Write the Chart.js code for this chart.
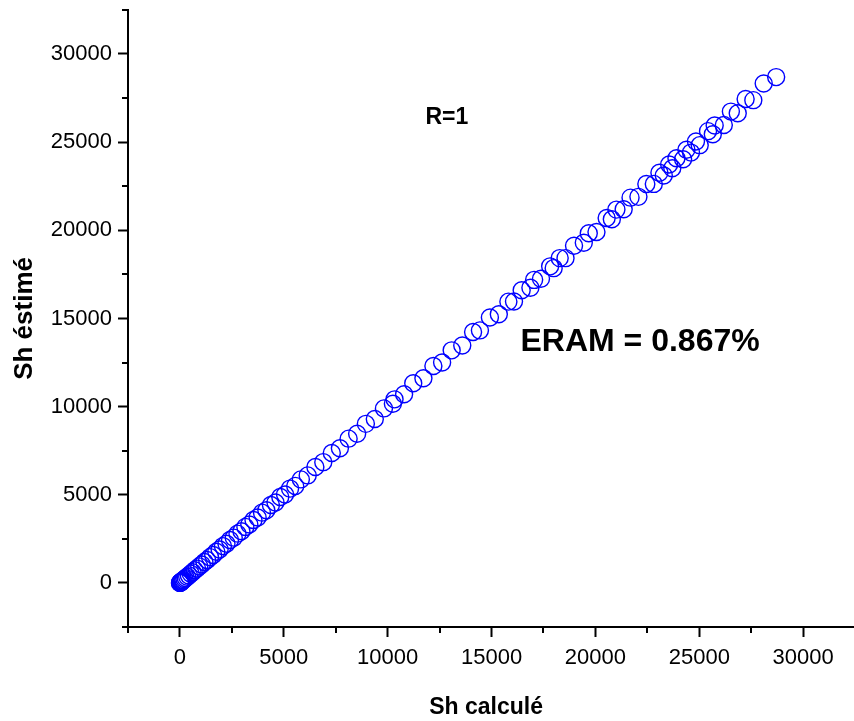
<!DOCTYPE html>
<html>
<head>
<meta charset="utf-8">
<script src="https://cdn.jsdelivr.net/npm/chart.js@4.4.1/dist/chart.umd.min.js"></script>
<style>
  body { margin: 0; background: #fff; }
</style>
</head>
<body>
<canvas id="shChart" width="854" height="721"></canvas>
<script>
    // Sh calculé vs Sh estimé
    const shCalcule = [0, 8, 15, 25, 40, 55, 75, 100, 130, 170, 220, 280, 350, 430, 520, 610, 710, 820, 930, 1050,
        1180, 1310, 1450, 1600, 1750, 1910, 2070, 2240, 2410, 2590, 2770, 2960, 3150, 3340, 3540, 3740, 3950, 4160,
        4380, 4600, 4830, 5060, 5300, 5550, 5820, 6150, 6520, 6900, 7310, 7700, 8120, 8530, 8950, 9380, 9820, 10250,
        10330, 10790, 11230, 11720, 12200, 12620, 13080, 13590, 14110, 14440, 14920, 15350, 15810, 16080, 16450,
        16870, 17050, 17380, 17820, 17990, 18280, 18560, 18970, 19440, 19680, 20050, 20540, 20790, 21010, 21360,
        21690, 22070, 22450, 22810, 23080, 23290, 23550, 23700, 23900, 24220, 24380, 24600, 24840, 25020, 25420,
        25650, 25740, 26180, 26520, 26850, 27230, 27600, 28100, 28700];
    const shEstime = [2, 6, 17, 24, 41, 53, 77, 98, 132, 168, 223, 277, 354, 426, 525, 604, 716, 812, 938, 1041,
        1190, 1298, 1462, 1587, 1764, 1896, 2088, 2221, 2432, 2568, 2795, 2934, 3178, 3311, 3571, 3708, 3986, 4122,
        4419, 4561, 4872, 5017, 5348, 5503, 5871, 6098, 6571, 6851, 7365, 7642, 8183, 8462, 9021, 9301, 9897, 10158,
        10412, 10698, 11321, 11611, 12305, 12504, 13192, 13462, 14232, 14321, 15054, 15238, 15952, 15961, 16598,
        16742, 17188, 17251, 17955, 17854, 18422, 18421, 19121, 19292, 19834, 19902, 20701, 20628, 21173, 21195,
        21852, 21898, 22628, 22631, 23261, 23109, 23732, 23519, 24088, 24033, 24571, 24407, 25037, 24828, 25624,
        25451, 25942, 25976, 26733, 26642, 27450, 27382, 28326, 28690];

    const xTicks = [-2500, 0, 2500, 5000, 7500, 10000, 12500, 15000, 17500, 20000, 22500, 25000, 27500, 30000];
    const yTicks = [-2500, 0, 2500, 5000, 7500, 10000, 12500, 15000, 17500, 20000, 22500, 25000, 27500, 30000, 32500];

    const points = shCalcule.map((v, i) => ({ x: v, y: shEstime[i] }));

    const isMajor = v => v % 5000 === 0;

    // short minor ticks, axis line to the edge, text notes
    const extras = {
        id: "extras",
        afterDraw(chart) {
            const c = chart.ctx;
            const xs = chart.scales.x, ys = chart.scales.y;
            c.save();
            c.strokeStyle = "#000";
            c.lineWidth = 2;
            c.beginPath();
            c.moveTo(xs.right - 1, ys.bottom);
            c.lineTo(chart.width, ys.bottom);
            xTicks.filter(v => !isMajor(v)).forEach(v => {
                const px = Math.round(xs.getPixelForValue(v));
                c.moveTo(px, ys.bottom);
                c.lineTo(px, ys.bottom + 6);
            });
            yTicks.filter(v => !isMajor(v)).forEach(v => {
                const py = Math.round(ys.getPixelForValue(v));
                c.moveTo(xs.left, py);
                c.lineTo(xs.left - 6, py);
            });
            c.stroke();

            c.fillStyle = "#000";
            c.textAlign = "center";
            c.textBaseline = "middle";
            c.font = "bold 23px 'Liberation Sans', Arial, sans-serif";
            c.fillText("R=1", xs.getPixelForValue(12850), ys.getPixelForValue(26400));
            c.font = "bold 32px 'Liberation Sans', Arial, sans-serif";
            c.fillText("ERAM = 0.867%", xs.getPixelForValue(22150), ys.getPixelForValue(13650));
            c.restore();
        }
    };

    new Chart("shChart", {
        type: "scatter",
        data: {
            datasets: [{
                label: "Sh",
                data: points,
                pointStyle: "circle",
                pointRadius: 8.5,
                pointHoverRadius: 8.5,
                borderColor: "#0000ff",
                borderWidth: 1.4,
                backgroundColor: "rgba(0,0,0,0)"
            }]
        },
        options: {
            responsive: false,
            animation: false,
            devicePixelRatio: 1,
            layout: { padding: { top: 8, right: 0, left: 0, bottom: 0 } },
            plugins: {
                legend: { display: false },
                tooltip: { enabled: false }
            },
            scales: {
                x: {
                    type: "linear",
                    min: -2500,
                    max: 31970,
                    afterBuildTicks: s => { s.ticks = xTicks.map(v => ({ value: v })); },
                    afterFit: s => { s.height = 94; s.paddingLeft = 0; s.paddingRight = 0; },
                    border: { display: true, color: "#000", width: 2 },
                    grid: {
                        drawOnChartArea: false,
                        tickLength: 10,
                        tickWidth: 2,
                        tickColor: ctx => isMajor(ctx.tick.value) ? "#000" : "rgba(0,0,0,0)"
                    },
                    ticks: {
                        autoSkip: false,
                        maxRotation: 0,
                        padding: 8,
                        color: "#000",
                        font: { family: "'Liberation Sans', Arial, sans-serif", size: 22 },
                        callback: v => isMajor(v) ? String(v) : ""
                    },
                    title: {
                        display: true,
                        text: "Sh calculé",
                        color: "#000",
                        padding: { top: 9, bottom: 0 },
                        font: { family: "'Liberation Sans', Arial, sans-serif", size: 23, weight: "bold" }
                    }
                },
                y: {
                    type: "linear",
                    min: -2500,
                    max: 32500,
                    afterBuildTicks: s => { s.ticks = yTicks.map(v => ({ value: v })); },
                    afterFit: s => { s.width = 128; s.paddingTop = 0; s.paddingBottom = 0; },
                    border: { display: true, color: "#000", width: 2 },
                    grid: {
                        drawOnChartArea: false,
                        tickLength: 10,
                        tickWidth: 2,
                        tickColor: ctx => isMajor(ctx.tick.value) ? "#000" : "rgba(0,0,0,0)"
                    },
                    ticks: {
                        autoSkip: false,
                        padding: 6,
                        color: "#000",
                        font: { family: "'Liberation Sans', Arial, sans-serif", size: 22 },
                        callback: v => isMajor(v) ? String(v) : ""
                    },
                    title: {
                        display: true,
                        text: "Sh éstimé",
                        color: "#000",
                        padding: { top: 9, bottom: 0 },
                        font: { family: "'Liberation Sans', Arial, sans-serif", size: 26, weight: "bold" }
                    }
                }
            }
        },
        plugins: [extras]
    });
</script>
</body>
</html>
